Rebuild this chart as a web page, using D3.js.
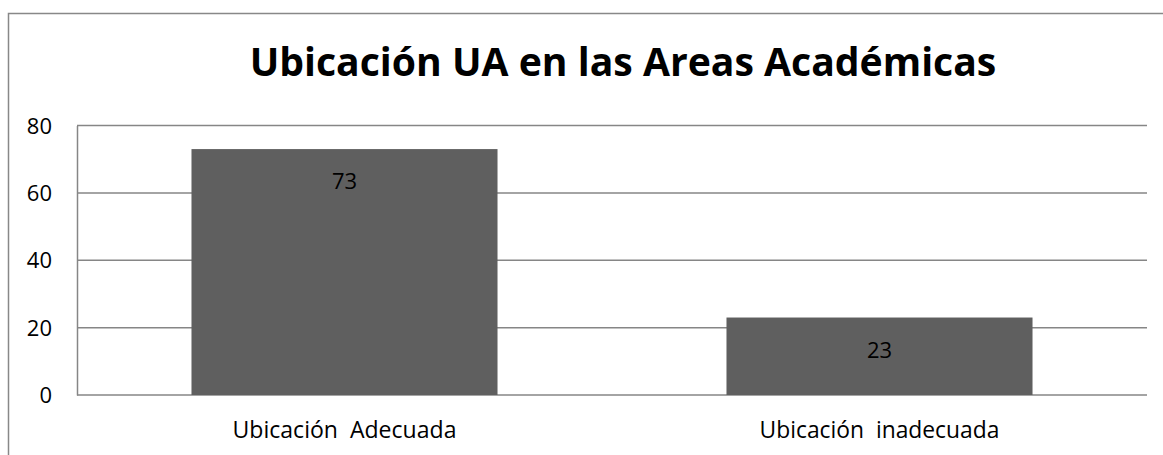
<!DOCTYPE html>
<html>
<head>
<meta charset="utf-8">
<script src="https://cdn.jsdelivr.net/npm/d3@7"></script>
<style>
    body { margin: 0; background: #fff; }
    svg text { font-family: "Open Sans", "Noto Sans", sans-serif; fill: #000; }
</style>
</head>
<body>
<div id="chart"></div>
<script>
// chart data
const categories = ["Ubicación  Adecuada", "Ubicación  inadecuada"];
const values = [73, 23];
const yTicks = [0, 20, 40, 60, 80];
const chartTitle = "Ubicación UA en las Areas Académicas";

const W = 1163, H = 455;
const margin = { top: 125.5, right: 16, bottom: 60, left: 77 };
const width = W - margin.left - margin.right;
const height = H - margin.top - margin.bottom;

const svg = d3.select("#chart").append("svg")
    .attr("width", W)
    .attr("height", H);

// outer frame (right/bottom edges fall outside the picture)
svg.append("rect")
    .attr("x", 8.5).attr("y", 13.5)
    .attr("width", W).attr("height", H)
    .attr("fill", "none")
    .attr("stroke", "#888")
    .attr("stroke-width", 1.5);

// scale a text's font so it spans the wanted width
function fitText(sel, base, target) {
    sel.each(function() {
        const w = this.getComputedTextLength();
        d3.select(this).style("font-size", (base * target / w) + "px");
    });
}

// title
const title = svg.append("text")
    .attr("x", 623)
    .attr("y", 76)
    .attr("text-anchor", "middle")
    .style("font-weight", "bold")
    .style("font-size", "40px")
    .text(chartTitle);
fitText(title, 40, 747);

const g = svg.append("g")
    .attr("transform", `translate(${margin.left},${margin.top})`);

const x = d3.scaleBand()
    .domain(categories)
    .range([0, width])
    .paddingInner(0.428)
    .paddingOuter(0.214);

const y = d3.scaleLinear()
    .domain([0, 80])
    .range([height, 0]);

// gridlines
g.selectAll(".grid")
    .data(yTicks)
    .enter().append("line")
    .attr("class", "grid")
    .attr("x1", 0).attr("x2", width)
    .attr("y1", d => y(d)).attr("y2", d => y(d))
    .attr("stroke", "#868686")
    .attr("stroke-width", 1.5);

// y axis
const yAxis = g.append("g")
    .call(d3.axisLeft(y).tickValues(yTicks).tickSize(0).tickPadding(25));
yAxis.select(".domain").attr("stroke", "#868686").attr("stroke-width", 1.5);
yAxis.selectAll("text")
    .style("font-size", "22px")
    .attr("dy", "0.35em");

// bars
g.selectAll(".bar")
    .data(values)
    .enter().append("rect")
    .attr("class", "bar")
    .attr("x", (d, i) => x(categories[i]))
    .attr("y", d => y(d))
    .attr("width", x.bandwidth())
    .attr("height", d => height - y(d))
    .attr("fill", "#5f5f5f");

// value labels
g.selectAll(".val")
    .data(values)
    .enter().append("text")
    .attr("class", "val")
    .attr("x", (d, i) => x(categories[i]) + x.bandwidth() / 2)
    .attr("y", d => y(d) + 40)
    .attr("text-anchor", "middle")
    .style("font-size", "22px")
    .text(d => d);

// x axis labels
const xAxis = g.append("g")
    .attr("transform", `translate(0,${height})`)
    .call(d3.axisBottom(x).tickSize(0).tickPadding(27));
xAxis.select(".domain").remove();
const xLabels = xAxis.selectAll("text")
    .style("font-size", "20px")
    .attr("xml:space", "preserve");
fitText(xLabels.filter((d, i) => i === 0), 20, 224);
fitText(xLabels.filter((d, i) => i === 1), 20, 240);
</script>
</body>
</html>
